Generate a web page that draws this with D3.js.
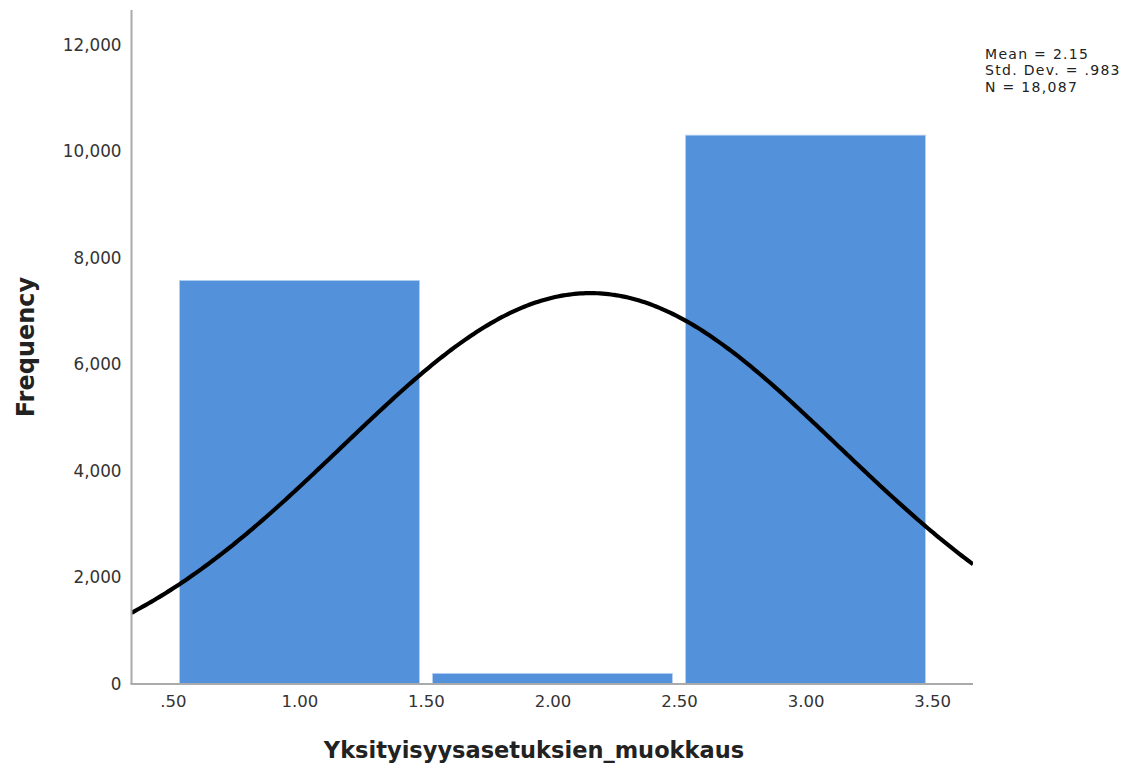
<!DOCTYPE html>
<html><head><meta charset="utf-8">
<script src="https://cdn.jsdelivr.net/npm/d3@7"></script>
<style>body{margin:0;background:#fff;}svg{display:block;}</style>
</head><body>
<svg id="c" width="1142" height="767"></svg>
<script>
const binStarts = [0.5, 1.5, 2.5];
const binEnds = [1.5, 2.5, 3.5];
const frequencies = [7580, 200, 10307];
const xTicks = [0.5, 1.0, 1.5, 2.0, 2.5, 3.0, 3.5];
const xTickLabels = [".50", "1.00", "1.50", "2.00", "2.50", "3.00", "3.50"];
const yTicks = [0, 2000, 4000, 6000, 8000, 10000, 12000];
const yTickLabels = ["0", "2,000", "4,000", "6,000", "8,000", "10,000", "12,000"];
const statMean = 2.15, statSD = 0.983, statN = 18087;
const statLines = ["Mean = 2.15", "Std. Dev. = .983", "N = 18,087"];

const svg = d3.select("#c");
const L = 131.5, R = 973, T = 10, B = 684;
const x = d3.scaleLinear().domain([0.336, 3.662]).range([L, R]);
const y = d3.scaleLinear().domain([0, 12000]).range([B, 45]);

// bars
const inset = 6.5;
svg.append("g").selectAll("rect").data(frequencies).join("rect")
  .attr("x", (d,i) => x(binStarts[i]) + inset)
  .attr("width", (d,i) => x(binEnds[i]) - x(binStarts[i]) - 2*inset)
  .attr("y", d => y(d))
  .attr("height", d => B - y(d))
  .attr("fill", "#5392da")
  .attr("stroke", "#b9d3f0").attr("stroke-width", 0.8);

// normal curve from displayed stats
svg.append("clipPath").attr("id","pc").append("rect")
  .attr("x", L).attr("y", T).attr("width", R-L).attr("height", B-T);
const binW = binEnds[0]-binStarts[0];
const curvePts = d3.range(0, 301).map(i => {
  const xv = x.domain()[0] + (x.domain()[1]-x.domain()[0])*i/300;
  const z = (xv - statMean)/statSD;
  return [xv, statN*binW/(statSD*Math.sqrt(2*Math.PI))*Math.exp(-0.5*z*z)];
});
svg.append("path").datum(curvePts)
  .attr("clip-path","url(#pc)")
  .attr("d", d3.line().x(d=>x(d[0])).y(d=>y(d[1])).curve(d3.curveBasis))
  .attr("fill","none").attr("stroke","#000").attr("stroke-width",4.2);

// axes
const yAxis = d3.axisLeft(y).tickValues(yTicks).tickFormat((d,i)=>yTickLabels[i]).tickSize(0).tickPadding(10);
const gy = svg.append("g").attr("transform", `translate(${L},0)`).call(yAxis);
gy.select(".domain").remove();
gy.selectAll("text").attr("font-family","DejaVu Sans").attr("font-size",16.8).attr("fill","#333");
svg.append("line").attr("x1",L).attr("x2",L).attr("y1",T).attr("y2",B).attr("stroke","#aaa").attr("stroke-width",2);

const xAxis = d3.axisBottom(x).tickValues(xTicks).tickFormat((d,i)=>xTickLabels[i]).tickSize(0).tickPadding(11);
const gx = svg.append("g").attr("transform", `translate(0,${B})`).call(xAxis);
gx.select(".domain").remove();
gx.selectAll("text").attr("font-family","DejaVu Sans").attr("font-size",16.5).attr("fill","#333");
svg.append("line").attr("x1",L-1).attr("x2",R).attr("y1",B).attr("y2",B).attr("stroke","#aaa").attr("stroke-width",2);

// titles
svg.append("text").attr("x", 534).attr("y", 758).attr("text-anchor","middle")
  .attr("font-family","DejaVu Sans").attr("font-weight","bold").attr("font-size",22.5).attr("fill","#222")
  .text("Yksityisyysasetuksien_muokkaus");
svg.append("text").attr("transform","translate(34,347) rotate(-90)").attr("text-anchor","middle")
  .attr("font-family","DejaVu Sans").attr("font-weight","bold").attr("font-size",24).attr("fill","#222")
  .text("Frequency");

// stats box
svg.append("g").selectAll("text").data(statLines).join("text")
  .attr("x", 985).attr("y", (d,i)=>58.5+i*16.5)
  .attr("font-family","DejaVu Sans").attr("font-size",14).attr("letter-spacing",1.3).attr("fill","#222")
  .text(d=>d);
</script>
</body></html>
